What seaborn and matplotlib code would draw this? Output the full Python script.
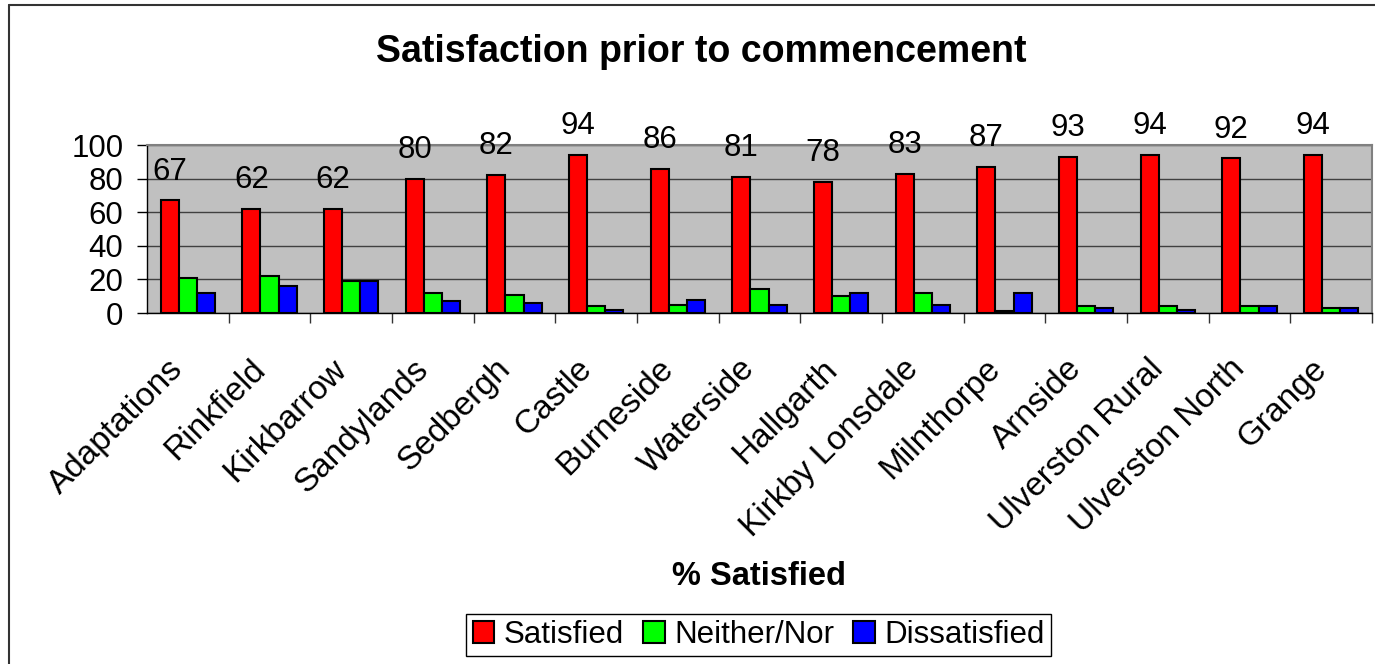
import pandas as pd
import numpy as np
import matplotlib
matplotlib.use("Agg")
import matplotlib.pyplot as plt
import matplotlib.transforms as mtransforms
from matplotlib.lines import Line2D
import seaborn as sns

# Данные
areas = ['Adaptations', 'Rinkfield', 'Kirkbarrow', 'Sandylands', 'Sedbergh', 'Castle',
         'Burneside', 'Waterside', 'Hallgarth', 'Kirkby Lonsdale', 'Milnthorpe', 'Arnside',
         'Ulverston Rural', 'Ulverston North', 'Grange']
satisfied = [67, 62, 62, 80, 82, 94, 86, 81, 78, 83, 87, 93, 94, 92, 94]
neither = [21, 22, 19, 12, 11, 4, 5, 14, 10, 12, 1, 4, 4, 4, 3]
dissatisfied = [12, 16, 19, 7, 6, 2, 8, 5, 12, 5, 12, 3, 2, 4, 3]
series_names = ['Satisfied', 'Neither/Nor', 'Dissatisfied']
colors = ['#FF0000', '#00FF00', '#0000FF']

df = pd.DataFrame({'Area': areas, 'Satisfied': satisfied,
                   'Neither/Nor': neither, 'Dissatisfied': dissatisfied})
long_df = df.melt(id_vars='Area', var_name='Series', value_name='Value')

sns.set_style('white')
plt.rcParams['font.family'] = ['Liberation Sans', 'DejaVu Sans']
plt.rcParams['text.color'] = 'black'
plt.rcParams['xtick.color'] = 'black'
plt.rcParams['ytick.color'] = 'black'

fig = plt.figure(figsize=(13.75, 6.64), dpi=100)
ax = fig.add_axes([0.1069, 0.5286, 0.8909, 0.2530])
ax.set_facecolor('#C0C0C0')

sns.barplot(data=long_df, x='Area', y='Value', hue='Series', hue_order=series_names,
            palette=colors, width=0.667, gap=0, saturation=1, edgecolor='black',
            linewidth=1.5, errorbar=None, legend=False, ax=ax, zorder=3)

ax.set_xlim(-0.5, len(areas) - 0.5)
ax.set_ylim(0, 100)
ax.set_yticks(range(0, 101, 20))
ax.yaxis.grid(True, color='#404040', linewidth=1.0, zorder=0)
ax.set_axisbelow(True)

# подписи над красными столбиками
ax.bar_label(ax.containers[0], fontsize=22.5, padding=10, color='black')

for s in ['left', 'bottom']:
    ax.spines[s].set_color('black')
    ax.spines[s].set_linewidth(1.0)
for s in ['top', 'right']:
    ax.spines[s].set_color('#808080')
    ax.spines[s].set_linewidth(1.5)

ax.tick_params(axis='y', length=7, width=1, color='black', direction='out',
               labelsize=22.5, pad=10, left=True)
ax.set_xticks(np.arange(len(areas)) + 0.5, minor=True)
ax.tick_params(axis='x', which='minor', length=7, width=1, color='#333333',
               direction='out', bottom=True)
ax.tick_params(axis='x', which='major', length=0, pad=29, labelsize=24)
ax.set_xticks(np.arange(len(areas)))
ax.set_xticklabels(areas, rotation=45, ha='right', va='top', rotation_mode='anchor')
shift = mtransforms.ScaledTranslation(-0.2, 0, fig.dpi_scale_trans)
for lab in ax.get_xticklabels():
    lab.set_transform(lab.get_transform() + shift)

ax.set_xlabel('')
ax.set_ylabel('')

fig.text(0.51, 0.9066, 'Satisfaction prior to commencement', fontsize=27,
         fontweight='bold', ha='center', va='baseline')
fig.text(0.552, 0.119, '% Satisfied', fontsize=23.5, fontweight='bold',
         ha='center', va='baseline')

handles = [plt.Rectangle((0, 0), 1, 1, facecolor=c, edgecolor='black', linewidth=1.5)
           for c in colors]
leg = fig.legend(handles, series_names, loc='center', bbox_to_anchor=(0.5516, 0.0437),
                 ncol=3, fontsize=22.5, frameon=True, fancybox=False, framealpha=1,
                 edgecolor='black', handlelength=0.7, handleheight=0.7,
                 handletextpad=0.3, columnspacing=0.6, borderpad=0.2,
                 borderaxespad=0)
leg.get_frame().set_linewidth(1.0)

# рамка всей диаграммы (справа и снизу обрезана)
fig.add_artist(Line2D([0.0065, 0.0065], [0, 0.9925], color='#333333', linewidth=1.5,
                      transform=fig.transFigure))
fig.add_artist(Line2D([0.0065, 1.0], [0.9925, 0.9925], color='#333333', linewidth=1.5,
                      transform=fig.transFigure))

fig.savefig('out.png', dpi=100)
